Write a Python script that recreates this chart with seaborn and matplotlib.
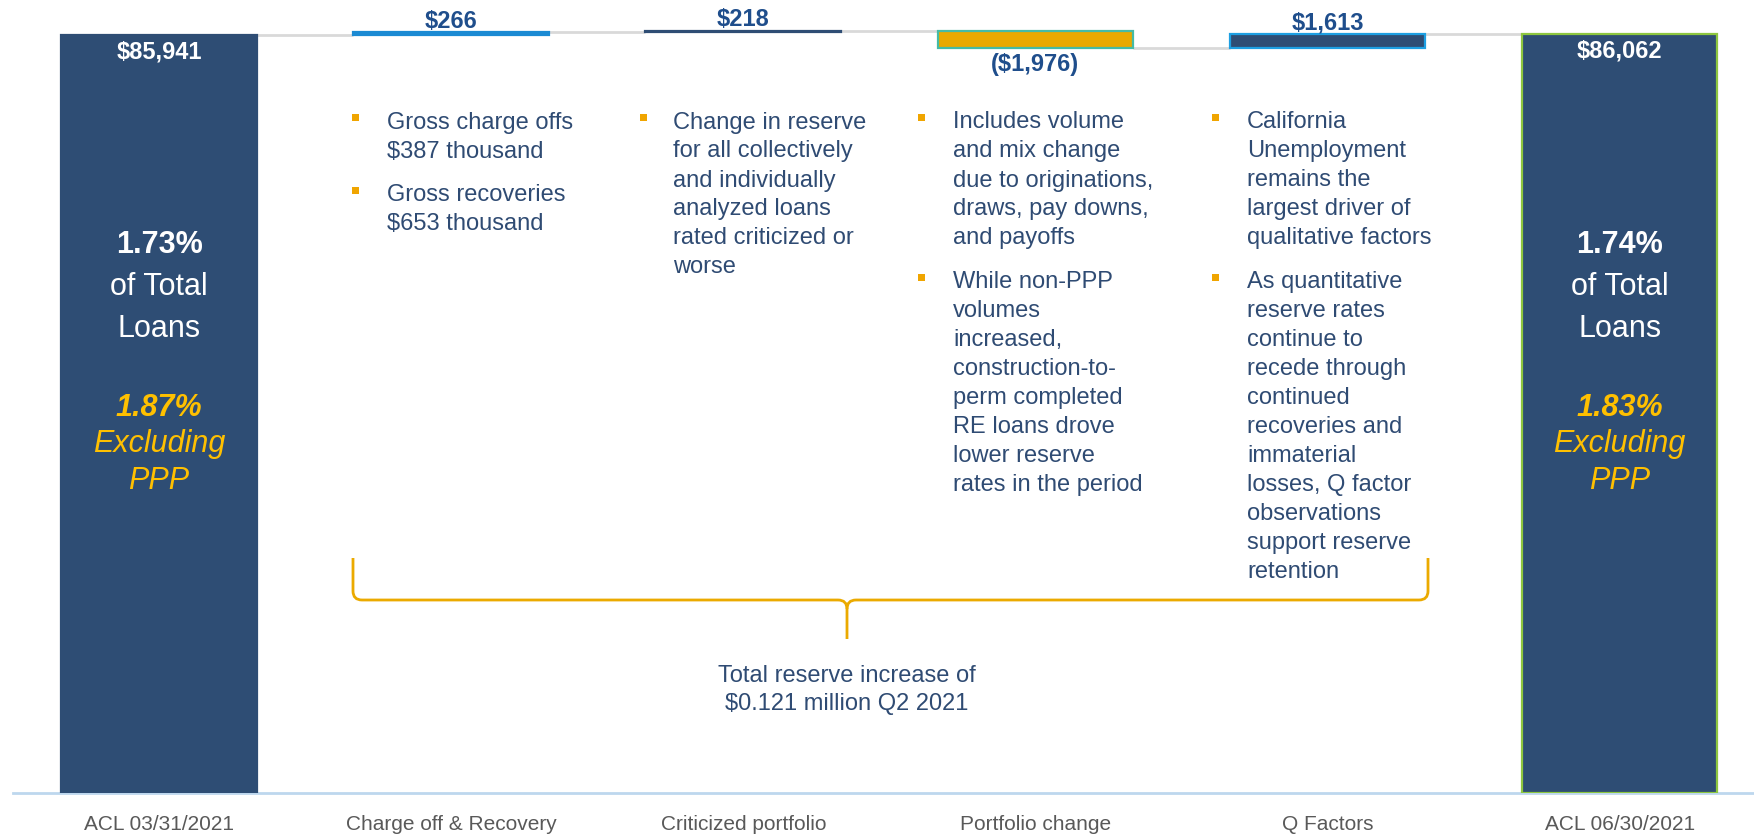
import matplotlib
matplotlib.use("Agg")
import matplotlib.pyplot as plt
import seaborn as sns
import numpy as np
import pandas as pd
from matplotlib.transforms import Affine2D, blended_transform_factory
from matplotlib.patches import Rectangle
from matplotlib.path import Path
from matplotlib.patches import PathPatch

# ---------------- data ----------------
categories = ["ACL 03/31/2021", "Charge off & Recovery", "Criticized portfolio",
              "Portfolio change", "Q Factors", "ACL 06/30/2021"]
start_total = 85941
deltas = [266, 218, -1976, 1613]
end_total = 86062
value_labels = ["$85,941", "$266", "$218", "($1,976)", "$1,613", "$86,062"]

pct_total = ["1.73%", "1.74%"]
pct_ex_ppp = ["1.87%", "1.83%"]

notes = [
    [["Gross charge offs", "$387 thousand"], ["Gross recoveries", "$653 thousand"]],
    [["Change in reserve", "for all collectively", "and individually", "analyzed loans",
      "rated criticized or", "worse"]],
    [["Includes volume", "and mix change", "due to originations,", "draws, pay downs,",
      "and payoffs"],
     ["While non-PPP", "volumes", "increased,", "construction-to-", "perm completed",
      "RE loans drove", "lower reserve", "rates in the period"]],
    [["California", "Unemployment", "remains the", "largest driver of", "qualitative factors"],
     ["As quantitative", "reserve rates", "continue to", "recede through", "continued",
      "recoveries and", "immaterial", "losses, Q factor", "observations",
      "support reserve", "retention"]],
]
summary_lines = ["Total reserve increase of", "$0.121 million Q2 2021"]

# colours
NAVY = "#2E4D74"
face_colors = [NAVY, "#1B8AD3", "#2E4D74", "#E9A900", NAVY, NAVY]
edge_colors = [NAVY, "#1B8AD3", "#2E4D74", "#45BBA5", "#1D9FE2", "#8DC63F"]
TEXT_NAVY = "#2F4B73"
VALUE_BLUE = "#1F4E8C"
GOLD = "#FFC000"
BULLET = "#F0A500"

# ---------------- waterfall geometry from data ----------------
bottoms, heights = [], []
bottoms.append(0); heights.append(start_total)
running = start_total
levels = [start_total]
for d in deltas:
    new = running + d
    bottoms.append(min(running, new))
    heights.append(abs(d))
    running = new
    levels.append(running)
bottoms.append(0); heights.append(end_total)
levels.append(end_total)

df = pd.DataFrame({"category": categories, "height": heights, "bottom": bottoms})

# ---------------- figure ----------------
sns.set_style("white")
plt.rcParams["font.family"] = ["Liberation Sans", "DejaVu Sans"]

W, H = 1754, 837
fig = plt.figure(figsize=(W / 100, H / 100), dpi=100)
ax = fig.add_axes([13 / W, 43 / H, 1 - 13 / W, 794 / H])

sns.barplot(data=df, x="category", y="height", bottom=df["bottom"].values,
            width=0.67, ax=ax, order=categories, color=NAVY, saturation=1,
            errorbar=None, zorder=3)

for p, fc, ec in zip(ax.patches, face_colors, edge_colors):
    p.set_facecolor(fc)
    p.set_edgecolor(ec)
    p.set_linewidth(1.6)

YMAX = 90000
ax.set_xlim(-0.5, 5.46)
ax.set_ylim(0, YMAX)

# connectors
half = 0.67 / 2
for i in range(len(categories) - 1):
    lvl = levels[i]
    ax.plot([i + half, i + 1 - half], [lvl, lvl], color="#D9D9D9", lw=2, zorder=2,
            solid_capstyle="butt")

# axis styling
for s in ["top", "right", "left"]:
    ax.spines[s].set_visible(False)
ax.spines["bottom"].set_color("#BDD7EE")
ax.spines["bottom"].set_linewidth(2)
ax.set_yticks([])
ax.set_xlabel("")
ax.set_ylabel("")
ax.tick_params(axis="x", length=0, pad=15, labelsize=15, labelcolor="#595959")

# value labels
for i, lab in enumerate(value_labels):
    top = bottoms[i] + heights[i]
    if i in (0, len(categories) - 1):
        ax.annotate(lab, (i, top), xytext=(0, -16), textcoords="offset pixels",
                    ha="center", va="center", color="white", fontsize=17,
                    fontweight="bold", zorder=5)
    elif deltas[i - 1] >= 0:
        ax.annotate(lab, (i, top), xytext=(0, 12), textcoords="offset pixels",
                    ha="center", va="center", color=VALUE_BLUE, fontsize=17,
                    fontweight="bold", zorder=5)
    else:
        ax.annotate(lab, (i, bottoms[i]), xytext=(0, -16), textcoords="offset pixels",
                    ha="center", va="center", color=VALUE_BLUE, fontsize=17,
                    fontweight="bold", zorder=5)

# pixel transform (origin top-left)
px = Affine2D().scale(1 / W, -1 / H).translate(0, 1) + fig.transFigure
xdata_ypx = blended_transform_factory(ax.transData, px)

# text inside total bars
BT = 22
for idx, bi in enumerate([0, len(categories) - 1]):
    ax.text(bi, 245, pct_total[idx], transform=xdata_ypx, ha="center", va="center",
            color="white", fontsize=BT, fontweight="bold", zorder=6)
    ax.text(bi, 287, "of Total", transform=xdata_ypx, ha="center", va="center",
            color="white", fontsize=BT, zorder=6)
    ax.text(bi, 329, "Loans", transform=xdata_ypx, ha="center", va="center",
            color="white", fontsize=BT, zorder=6)
    ax.text(bi, 408, pct_ex_ppp[idx], transform=xdata_ypx, ha="center", va="center",
            color=GOLD, fontsize=BT, fontweight="bold", fontstyle="italic", zorder=6)
    ax.text(bi, 444, "Excluding", transform=xdata_ypx, ha="center", va="center",
            color=GOLD, fontsize=BT, fontstyle="italic", zorder=6)
    ax.text(bi, 481, "PPP", transform=xdata_ypx, ha="center", va="center",
            color=GOLD, fontsize=BT, fontstyle="italic", zorder=6)

# bullet notes
text_x = [387, 673, 953, 1247]
bullet_x = [352, 640, 918, 1212]
STEP = 29
PARA = 44
for col, paras in enumerate(notes):
    y = 120
    for pi, para in enumerate(paras):
        if pi > 0:
            y += PARA - STEP
        fig.add_artist(Rectangle((bullet_x[col], y - 5.5), 7, 7, transform=px,
                                 facecolor=BULLET, edgecolor="none"))
        for line in para:
            fig.text(text_x[col], y + 8.5, line, transform=px, ha="left",
                     va="baseline", fontsize=17, color=TEXT_NAVY)
            y += STEP

# bracket
BCOL = "#EBAA00"
L, R, C = 353, 1428, 847
TOPY, HY, TIP = 559, 601, 640
r = 9
verts = [
    (L, TOPY), (L, HY - r), (L, HY), (L + r, HY),
    (C - r, HY), (C, HY), (C, HY + r), (C, TIP),
]
codes = [Path.MOVETO, Path.LINETO, Path.CURVE3, Path.CURVE3,
         Path.LINETO, Path.CURVE3, Path.CURVE3, Path.LINETO]
fig.add_artist(PathPatch(Path(verts, codes), transform=px, facecolor="none",
                         edgecolor=BCOL, lw=2))
verts2 = [
    (R, TOPY), (R, HY - r), (R, HY), (R - r, HY),
    (C + r, HY), (C, HY), (C, HY + r),
]
codes2 = [Path.MOVETO, Path.LINETO, Path.CURVE3, Path.CURVE3,
          Path.LINETO, Path.CURVE3, Path.CURVE3]
fig.add_artist(PathPatch(Path(verts2, codes2), transform=px, facecolor="none",
                         edgecolor=BCOL, lw=2))

for k, line in enumerate(summary_lines):
    fig.text(C, 676 + 28 * k, line, transform=px, ha="center", va="center",
             fontsize=17, color=TEXT_NAVY)

fig.savefig("out.png", dpi=100, facecolor="white")
